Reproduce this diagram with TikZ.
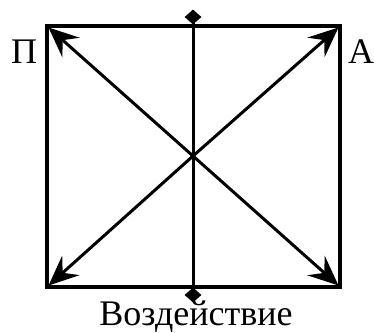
\documentclass[tikz,border=0pt]{standalone}
\usepackage{fontspec}
\setmainfont{Liberation Serif}
\usetikzlibrary{arrows.meta, shapes.geometric, positioning, calc}

\begin{document}
\begin{tikzpicture}[x=1pt, y=-1pt,
    diag/.style={-{Stealth[length=30pt, width=26pt, inset=11pt]}, line width=3pt},
    marker/.style={diamond, fill=black, inner sep=0pt, minimum width=17pt, minimum height=15pt},
    lbl/.style={font=\fontsize{36}{40}\selectfont, inner sep=0pt, anchor=base}]
    \useasboundingbox (0,0) rectangle (374,332);

    \coordinate (tl) at (47,26);
    \coordinate (tr) at (340,26);
    \coordinate (bl) at (47,287);
    \coordinate (br) at (340,287);
    \coordinate (o) at (193,156);

    \draw[line width=3.5pt] (tl) rectangle (br);

    \node[marker] (top) at (193,17) {};
    \node[marker] (bot) at (193,295) {};
    \draw[line width=3pt] (top.center) -- (bot.center);

    \draw[diag] (o) -- ($(tl)+(1.5,1.5)$);
    \draw[diag] (o) -- ($(tr)+(-1.5,1.5)$);
    \draw[diag] (o) -- ($(bl)+(1.5,-1.5)$);
    \draw[diag] (o) -- ($(br)+(-1.5,-1.5)$);

    \node[lbl] (P) at (24,63) {П};
    \node[lbl] (A) at (361,63) {А};
    \node[lbl] (V) at (196,325) {Воздействие};
\end{tikzpicture}
\end{document}
